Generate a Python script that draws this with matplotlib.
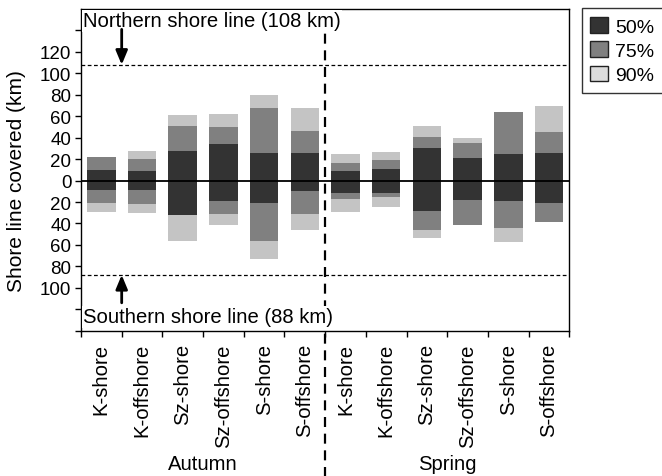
import numpy as np
import matplotlib
matplotlib.use("Agg")
import matplotlib.pyplot as plt
from matplotlib.patches import Patch
import matplotlib.transforms as mtransforms

plt.rcParams['font.family'] = ['Liberation Sans', 'DejaVu Sans']

# categories
sites = ["K-shore", "K-offshore", "Sz-shore", "Sz-offshore", "S-shore", "S-offshore",
         "K-shore", "K-offshore", "Sz-shore", "Sz-offshore", "S-shore", "S-offshore"]
seasons = ["Autumn", "Spring"]

# km covered northwards (up) and southwards (down), per kernel level
up50 = [10, 9, 28, 34, 26, 26, 9, 11, 30, 21, 25, 26]
up75 = [22, 20, 51, 50, 68, 46, 16, 19, 41, 35, 64, 45]
up90 = [22, 28, 61, 62, 80, 68, 25, 27, 51, 40, 64, 70]
down50 = [9, 9, 32, 19, 21, 10, 12, 12, 28, 18, 19, 21]
down75 = [21, 22, 32, 31, 56, 31, 17, 15, 46, 41, 44, 39]
down90 = [29, 30, 56, 41, 73, 46, 29, 25, 54, 41, 57, 39]

north_km = 108
south_km = 88

levels = ["50%", "75%", "90%"]
bar_colors = {"50%": "#333333", "75%": "#808080", "90%": "#c4c4c4"}
leg_colors = {"50%": "#333333", "75%": "#808080", "90%": "#dcdcdc"}

fig = plt.figure(figsize=(6.62, 4.77), dpi=100)
ax = fig.add_axes([81/662, 1-331.7/477, 488.3/662, 321.7/477])

x = np.arange(len(sites))
w = 0.7
for up, down, lev in [(up90, down90, "90%"), (up75, down75, "75%"), (up50, down50, "50%")]:
    up = np.array(up)
    down = np.array(down)
    ax.bar(x, up + down, bottom=-down, width=w, color=bar_colors[lev], linewidth=0, zorder=2)

ax.axhline(0, color='black', lw=1.3, zorder=3)
ax.axhline(north_km, color='black', lw=0.9, ls=(0, (3, 2)), zorder=1)
ax.axhline(-south_km, color='black', lw=0.9, ls=(0, (3, 2)), zorder=1)

# season divider, runs down below the axis
ax.axvline(5.5, ymin=-0.46, ymax=1, color='black', lw=1.6, ls=(0, (4.5, 3)),
           clip_on=False, zorder=1)

ax.text(-0.45, 149, f"Northern shore line ({north_km} km)", fontsize=14.6, va='center',
        ha='left', bbox=dict(facecolor='white', edgecolor='none', pad=1), zorder=4)
ax.text(-0.45, -127, f"Southern shore line ({south_km} km)", fontsize=14.6, va='center',
        ha='left', bbox=dict(facecolor='white', edgecolor='none', pad=1), zorder=4)
arrow = dict(arrowstyle='-|>,head_length=0.6,head_width=0.25', color='black', lw=2,
             mutation_scale=14, shrinkA=0, shrinkB=0)
ax.annotate('', xy=(0.5, north_km), xytext=(0.5, 141), arrowprops=arrow, zorder=4)
ax.annotate('', xy=(0.5, -south_km), xytext=(0.5, -114), arrowprops=arrow, zorder=4)

ax.set_xlim(-0.5, len(sites) - 0.5)
ax.set_ylim(-140, 160)

yt = np.arange(-140, 141, 20)
ax.set_yticks(yt)
ax.set_yticklabels([str(abs(v)) if -100 <= v <= 120 else "" for v in yt], fontsize=13.5)
ax.tick_params(axis='y', length=4, width=1, pad=3)

ax.set_xticks(np.arange(-0.5, len(sites), 1))
ax.set_xticklabels([])
ax.tick_params(axis='x', which='major', length=4, width=1)
ax.set_xticks(x, minor=True)
ax.set_xticklabels(sites, minor=True, rotation=90, fontsize=14.6)
ax.tick_params(axis='x', which='minor', length=0, pad=9)

trans = mtransforms.blended_transform_factory(ax.transData, ax.transAxes)
ax.text(2.5, -0.414, seasons[0], transform=trans, ha='center', va='center', fontsize=14.6)
ax.text(8.5, -0.414, seasons[1], transform=trans, ha='center', va='center', fontsize=14.6)

for s in ax.spines.values():
    s.set_linewidth(1)

fig.text(16.7/662, 1-181.5/477, "Shore line covered (km)", rotation=90,
         ha='center', va='center', fontsize=15)

handles = [Patch(facecolor=leg_colors[l], edgecolor='#222222', lw=1) for l in levels]
fig.legend(handles, levels, loc='upper left', bbox_to_anchor=(581.7/662, 1-9.3/477),
           fontsize=14, frameon=True, fancybox=False, edgecolor='black',
           handlelength=0.9, handleheight=0.85, handletextpad=0.35,
           labelspacing=0.3, borderpad=0.45, borderaxespad=0)

fig.savefig("out.png", dpi=100)
